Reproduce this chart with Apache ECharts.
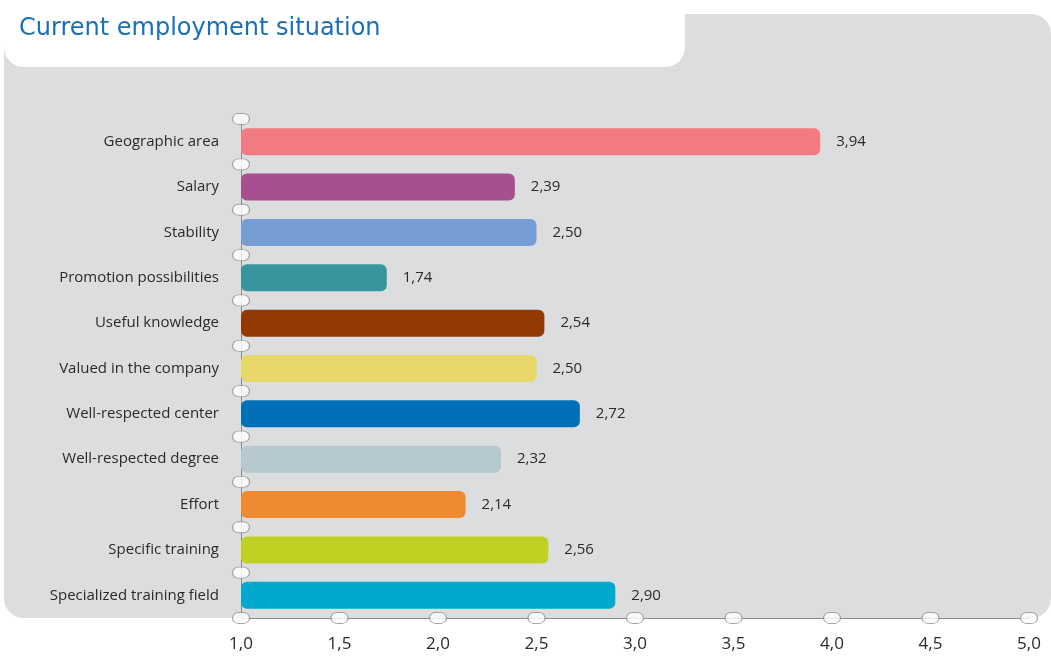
<!DOCTYPE html>
<html>
<head>
    <meta charset="utf-8" />
    <script src="https://cdn.jsdelivr.net/npm/echarts@6/dist/echarts.min.js"></script>
    <style>
        html, body { margin: 0; padding: 0; background: #fff; }
        #main { width: 1051px; height: 656px; }
    </style>
</head>
<body>
    <div id="main"></div>
    <script type="text/javascript">
        // 数据
        var categories = ["Geographic area", "Salary", "Stability", "Promotion possibilities", "Useful knowledge",
            "Valued in the company", "Well-respected center", "Well-respected degree", "Effort",
            "Specific training", "Specialized training field"];
        var values = [3.94, 2.39, 2.50, 1.74, 2.54, 2.50, 2.72, 2.32, 2.14, 2.56, 2.90];
        var barColors = ["#f17b80", "#a84f8f", "#769dd4", "#38959e", "#933a04", "#e8d769",
            "#0170b8", "#b5c9ce", "#ef8a31", "#c1d123", "#00a9cd"];
        var xTicks = [1.0, 1.5, 2.0, 2.5, 3.0, 3.5, 4.0, 4.5, 5.0];

        // 刻度上的小白色药丸
        var pill = "path://M6,0 H11 A6,6 0 0 1 11,12 H6 A6,6 0 0 1 6,0 Z";
        var pillPoints = [];
        for (var k = 0; k <= categories.length; k++) pillPoints.push([1.0, k]);
        xTicks.slice(1).forEach(function (v) { pillPoints.push([v, 0]); });

        var myChart = echarts.init(document.getElementById("main"));
        var option = {
            backgroundColor: "#ffffff",
            animation: false,
            textStyle: { fontFamily: "Open Sans" },
            graphic: [
                {
                    type: "rect", z: -10,
                    shape: { x: 4, y: 14, width: 1047, height: 604, r: 20 },
                    style: { fill: "#dcdddf" }
                },
                {
                    type: "rect", z: -9,
                    shape: { x: 4, y: -30, width: 681, height: 97, r: 20 },
                    style: { fill: "#ffffff" }
                }
            ],
            title: {
                text: "Current employment situation",
                left: 14, top: 12,
                textStyle: { color: "#1a6fba", fontSize: 24, fontWeight: "normal", fontFamily: "DejaVu Sans" }
            },
            grid: { left: 241, right: 22, top: 119, bottom: 38 },
            xAxis: {
                type: "value", min: 1, max: 5, interval: 0.5,
                axisLine: { show: true, lineStyle: { color: "#8a8a8a", width: 1 } },
                axisTick: { show: false },
                splitLine: { show: false },
                axisLabel: {
                    color: "#2a2a2a", fontSize: 17, margin: 18,
                    formatter: function (v) { return v.toFixed(1).replace(".", ","); }
                }
            },
            yAxis: [
                {
                    type: "category", data: categories, inverse: true,
                    axisLine: { show: true, lineStyle: { color: "#8a8a8a", width: 1 } },
                    axisTick: { show: false },
                    axisLabel: { color: "#2a2a2a", fontSize: 15, margin: 22 }
                },
                { type: "value", min: 0, max: categories.length, show: false }
            ],
            series: [
                {
                    type: "bar", barWidth: 27,
                    data: values.map(function (v, i) {
                        return { value: v, itemStyle: { color: barColors[i] } };
                    }),
                    itemStyle: { borderRadius: 6 },
                    label: {
                        show: true, position: "right", distance: 16,
                        color: "#2a2a2a", fontSize: 15,
                        formatter: function (p) { return p.value.toFixed(2).replace(".", ","); }
                    }
                },
                {
                    type: "scatter", yAxisIndex: 1, z: 5, clip: false,
                    symbol: pill, symbolSize: [17, 11],
                    itemStyle: { color: "#ffffff", borderColor: "#8f8f8f", borderWidth: 1 },
                    silent: true,
                    data: pillPoints
                }
            ]
        };
        myChart.setOption(option);
    </script>
</body>
</html>
